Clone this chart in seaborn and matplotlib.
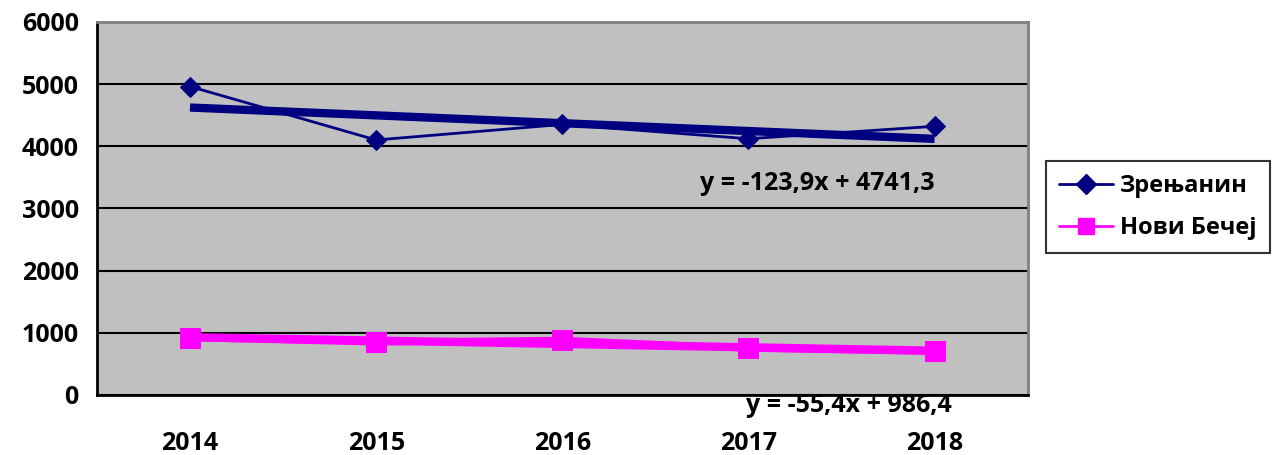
import numpy as np
import pandas as pd
import matplotlib.pyplot as plt
import seaborn as sns
from matplotlib.lines import Line2D

# data
years = ['2014', '2015', '2016', '2017', '2018']
zrenjanin = [4960, 4100, 4350, 4120, 4320]
novi_becej = [920, 850, 880, 750, 700]
trend_labels = ['y = -123,9x + 4741,3', 'y = -55,4x + 986,4']

sns.set_style('white')
plt.rcParams['font.family'] = ['Open Sans', 'DejaVu Sans']
plt.rcParams['font.weight'] = 'bold'
plt.rcParams['text.color'] = 'black'
plt.rcParams['xtick.color'] = 'black'
plt.rcParams['ytick.color'] = 'black'

df = pd.DataFrame({
    'pos': list(range(len(years))) * 2,
    'value': zrenjanin + novi_becej,
    'grad': ['Зрењанин'] * len(years) + ['Нови Бечеј'] * len(years),
})

fig = plt.figure(figsize=(12.75, 4.55), dpi=100)
ax = fig.add_axes([0.076, 0.132, 0.730, 0.820])
ax.set_facecolor('#C0C0C0')

navy = '#000080'
magenta = '#FF00FF'
fs = 18

# linear trend lines (x = 1..5 as in Excel)
xs = np.arange(1, len(years) + 1)
for vals, col, lw in [(zrenjanin, navy, 6), (novi_becej, magenta, 6)]:
    k, b = np.polyfit(xs, vals, 1)
    ax.plot(xs - 1, k * xs + b, color=col, lw=lw, solid_capstyle='butt', zorder=3)

sns.lineplot(data=df[df.grad == 'Зрењанин'], x='pos', y='value', ax=ax,
             color=navy, lw=2, marker='D', markersize=10, markeredgecolor=navy,
             zorder=4, legend=False)
sns.lineplot(data=df[df.grad == 'Нови Бечеј'], x='pos', y='value', ax=ax,
             color=magenta, lw=5, marker='s', markersize=14, markeredgecolor=magenta,
             zorder=4, legend=False)

ax.set_xlim(-0.5, len(years) - 0.5)
ax.set_ylim(0, 6000)
ax.set_yticks(range(0, 6001, 1000))
ax.yaxis.grid(True, color='black', lw=1.5)
ax.set_axisbelow(True)

ax.set_xticks(range(len(years)))
ax.set_xticklabels(years)
ax.set_xticks(np.arange(-0.5, len(years)), minor=True)
ax.tick_params(axis='x', which='major', length=0, pad=26, labelsize=fs)
ax.tick_params(axis='x', which='minor', length=8, width=1.5, direction='out', color='black')
ax.tick_params(axis='y', length=8, width=1.5, direction='out', color='black', labelsize=fs, pad=5)
for lab in ax.get_xticklabels() + ax.get_yticklabels():
    lab.set_fontweight('bold')
ax.set_xlabel('')
ax.set_ylabel('')

for side in ['left', 'bottom']:
    ax.spines[side].set_color('black')
    ax.spines[side].set_linewidth(2)
for side in ['top', 'right']:
    ax.spines[side].set_color('#808080')
    ax.spines[side].set_linewidth(2)

ax.text(3.37, 3400, trend_labels[0], ha='center', va='center', fontsize=fs,
        fontweight='bold', zorder=5)
ax.text(3.54, -170, trend_labels[1], ha='center', va='center', fontsize=fs,
        fontweight='bold', zorder=5, clip_on=False)

handles = [
    Line2D([], [], color=navy, lw=2, marker='D', markersize=10),
    Line2D([], [], color=magenta, lw=2, marker='s', markersize=12),
]
leg = fig.legend(handles, ['Зрењанин', 'Нови Бечеј'], loc='center right',
                 bbox_to_anchor=(0.996, 0.545), frameon=True, fancybox=False,
                 edgecolor='black', handlelength=2.3,
                 borderpad=0.55, labelspacing=0.75, handletextpad=0.3,
                 borderaxespad=0.0, prop={'weight': 'bold', 'size': 17})
leg.get_frame().set_linewidth(1.5)

fig.savefig('out.png', dpi=100)
